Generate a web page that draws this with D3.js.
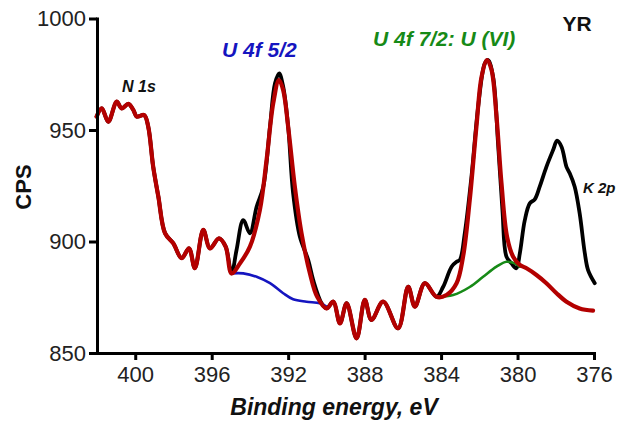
<!DOCTYPE html>
<html><head><meta charset="utf-8">
<script src="https://cdn.jsdelivr.net/npm/d3@7"></script>
<style>
body{margin:0;background:#fff;}
svg{display:block;font-family:"Liberation Sans",Arial,sans-serif;}
</style></head>
<body><svg id="chart" width="618" height="425"></svg>
<script>
// Measured spectrum (black)
const dataEnergy = [402.02,401.75,401.41,400.97,400.71,400.36,400.10,399.92,399.53,399.32,399.06,398.79,398.44,398.01,397.57,397.19,396.88,396.44,396.09,395.62,395.27,394.96,
 394.70,394.35,394.00,393.65,393.30,392.95,392.69,392.47,392.26,392.00,391.74,391.39,390.95,390.69,390.25,
 389.99,389.64,389.29,388.94,388.42,387.99,387.64,387.03,386.25,385.72,385.37,384.85,384.24,
 383.89,383.45,383.19,383.02,382.76,382.41,382.06,381.71,381.54,381.28,381.02,380.79,380.58,380.32,380.06,379.88,379.62,379.36,379.10,378.84,378.49,378.14,377.93,377.70,377.44,377.27,377.01,376.75,376.48,376.31,375.96];
const dataCps = [956.0,959.7,953.7,962.7,959.7,961.7,959.0,956.0,956.7,951.5,933.5,920.1,903.7,899.2,892.5,896.9,888.0,905.2,896.9,901.4,897.7,885.7,
 896.2,909.6,903.7,915.6,924.6,951.5,970.9,975.4,969.4,951.5,921.6,902.2,891.7,882.7,872.3,
 870.0,873.0,863.3,872.3,856.6,873.8,864.8,873.0,861.1,879.7,870.8,881.3,875.2,
 879.7,888.7,890.9,891.7,903.7,929.1,960.4,979.9,981.4,973.9,944.0,914.1,893.2,890.2,888.0,894.7,909.6,917.1,918.9,924.6,933.5,941.0,945.2,942.5,933.5,930.6,924.6,912.6,894.7,887.2,881.3];

// Fitted envelope (red)
const fitEnergy = [402.02,401.75,401.41,400.97,400.71,400.36,400.10,399.92,399.53,399.32,399.06,398.79,398.44,398.01,397.57,397.19,396.88,396.44,396.09,395.62,395.27,394.96,
 394.52,394.00,393.48,393.13,392.78,392.48,392.26,392.00,391.65,391.30,390.86,390.48,
 389.99,389.64,389.29,388.94,388.42,387.99,387.64,387.03,386.25,385.72,385.37,384.85,384.24,
 383.72,383.19,382.85,382.50,382.15,381.88,381.59,381.36,381.10,380.84,380.55,380.23,379.88,379.53,379.01,378.49,377.96,377.44,376.75,376.05];
const fitCps = [956.0,959.7,953.7,962.7,959.7,961.7,959.0,956.0,956.7,951.5,933.5,920.1,903.7,899.2,892.5,896.9,888.0,905.2,896.9,901.4,897.7,885.7,
 890.2,897.7,914.1,936.5,962.0,972.4,967.9,951.5,924.6,903.7,885.7,875.2,
 870.0,873.0,863.3,872.3,856.6,873.8,864.8,873.0,861.1,879.7,870.8,881.3,875.2,
 876.0,881.3,893.2,918.6,951.5,973.9,981.4,976.9,956.0,926.1,902.2,893.2,889.5,888.0,885.0,881.3,876.8,873.0,870.0,869.0];

// Background under U 4f 5/2 (blue)
const bg52Energy = [394.96,394.35,393.65,392.95,392.26,391.74,391.04,390.34,389.99];
const bg52Cps = [885.7,885.7,884.2,881.3,876.8,874.1,873.0,872.3,870.8];

// Background under U 4f 7/2 (green)
const bg72Energy = [384.24,383.37,382.50,381.80,381.10,380.58,380.14,379.88];
const bg72Cps = [875.2,876.0,879.6,884.2,888.7,890.9,890.2,888.7];

const xTicks = [400,396,392,388,384,380,376];
const yTicks = [850,900,950,1000];

const svg = d3.select("#chart");
const x = d3.scaleLinear().domain([402,376]).range([97,594]);
const y = d3.scaleLinear().domain([850,1000]).range([353,18.5]);

const zip = (e,c) => e.map((v,i)=>[v,c[i]]);
const line = d3.line().x(d=>x(d[0])).y(d=>y(d[1])).curve(d3.curveCatmullRom.alpha(0.5));

function path(pts, color, w){
  svg.append("path").attr("d", line(pts)).attr("fill","none")
    .attr("stroke",color).attr("stroke-width",w)
    .attr("stroke-linejoin","round").attr("stroke-linecap","round");
}
path(zip(dataEnergy,dataCps), "#000", 3.8);
path(zip(bg52Energy,bg52Cps), "#1515c0", 2.6);
path(zip(bg72Energy,bg72Cps), "#178a17", 2.6);
path(zip(fitEnergy,fitCps), "#b30000", 4.2);

// axes
const ax = svg.append("g").attr("transform","translate(0,353)")
  .call(d3.axisBottom(x).tickValues(xTicks).tickSize(7).tickSizeOuter(0).tickPadding(6).tickFormat(d3.format("d")));
const ay = svg.append("g").attr("transform","translate(97,0)")
  .call(d3.axisLeft(y).tickValues(yTicks).tickSize(8).tickSizeOuter(0).tickPadding(3).tickFormat(d3.format("d")));
[ax,ay].forEach(g=>{
  g.select(".domain").attr("stroke","#000").attr("stroke-width",3).attr("stroke-linecap","square");
  g.selectAll(".tick line").attr("stroke","#000").attr("stroke-width",3);
  g.selectAll("text").attr("fill","#222").attr("font-size",22).attr("font-family","'Liberation Sans',Arial,sans-serif");
});

// titles
svg.append("text").attr("transform","translate(31,187) rotate(-90)").attr("text-anchor","middle")
  .attr("font-size",22).attr("font-weight","bold").attr("fill","#111").text("CPS");
svg.append("text").attr("x",334).attr("y",415).attr("text-anchor","middle")
  .attr("font-size",23).attr("font-weight","bold").attr("font-style","italic").attr("fill","#111").text("Binding energy, eV");

// annotations
svg.append("text").attr("x",577).attr("y",31).attr("text-anchor","middle")
  .attr("font-size",21).attr("font-weight","bold").attr("fill","#111").text("YR");
svg.append("text").attr("x",222).attr("y",57)
  .attr("font-size",21).attr("font-weight","bold").attr("font-style","italic").attr("fill","#1515c0").text("U 4f 5/2");
svg.append("text").attr("x",373).attr("y",46)
  .attr("font-size",21).attr("font-weight","bold").attr("font-style","italic").attr("fill","#178a17").text("U 4f 7/2: U (VI)");
svg.append("text").attr("x",122).attr("y",92)
  .attr("font-size",16).attr("font-weight","bold").attr("font-style","italic").attr("fill","#111").text("N 1s");
svg.append("text").attr("x",583).attr("y",193)
  .attr("font-size",15).attr("font-weight","bold").attr("font-style","italic").attr("fill","#111").text("K 2p");
</script></body></html>
